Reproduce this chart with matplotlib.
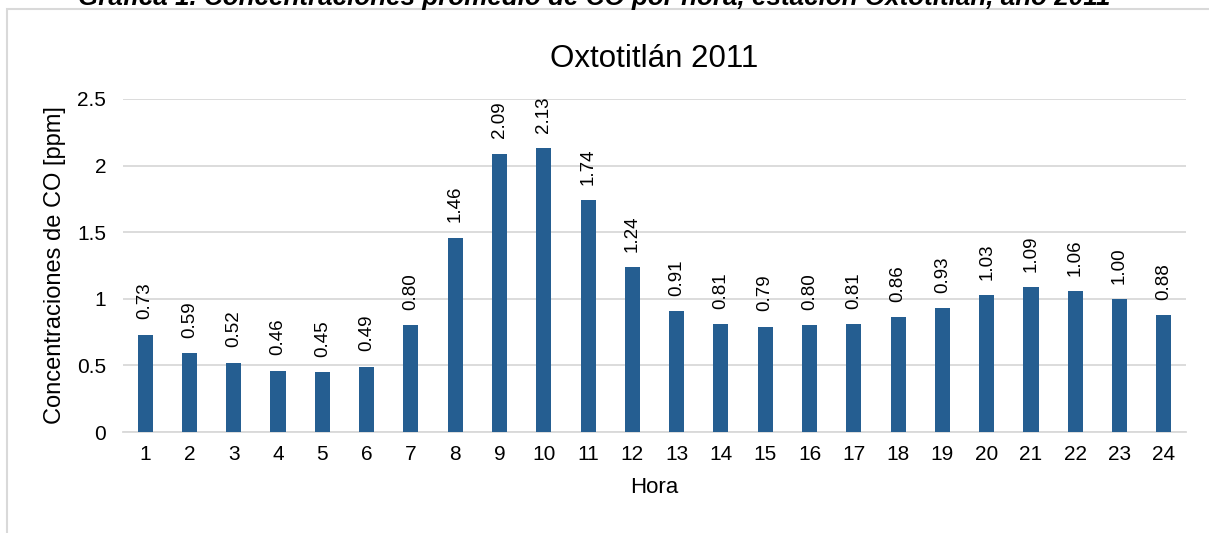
import matplotlib
matplotlib.use("Agg")
import matplotlib.pyplot as plt
from matplotlib.patches import Rectangle

plt.rcParams['font.family'] = ['Liberation Sans', 'DejaVu Sans']

# data
horas = [str(h) for h in range(1, 25)]
co_ppm = [0.73, 0.59, 0.52, 0.46, 0.45, 0.49, 0.80, 1.46, 2.09, 2.13, 1.74, 1.24,
          0.91, 0.81, 0.79, 0.80, 0.81, 0.86, 0.93, 1.03, 1.09, 1.06, 1.00, 0.88]
etiquetas = ['0.73', '0.59', '0.52', '0.46', '0.45', '0.49', '0.80', '1.46', '2.09', '2.13',
             '1.74', '1.24', '0.91', '0.81', '0.79', '0.80', '0.81', '0.86', '0.93', '1.03',
             '1.09', '1.06', '1.00', '0.88']

W, H = 1209, 533
fig = plt.figure(figsize=(W / 100, H / 100), dpi=100)

# outer chart frame (cut at right and bottom)
fig.patches.append(Rectangle((7 / W, -0.1), 1.2, (H - 9) / H + 0.1,
                             transform=fig.transFigure, fill=False,
                             edgecolor='#D9D9D9', linewidth=1.5))

# caption, mostly cut off at the top
fig.text(594 / W, 1 - 5.5 / H,
         'Gráfica 1. Concentraciones promedio de CO por hora, estación Oxtotitlán, año 2011',
         ha='center', va='baseline', fontsize=18.7, weight='bold', style='italic')

ax = fig.add_axes([123 / W, 1 - 432 / H, (1186 - 123) / W, (432 - 99) / H])
x = range(len(horas))
ax.bar(x, co_ppm, width=0.34, color='#255E91', zorder=3)

for xi, v, lab in zip(x, co_ppm, etiquetas):
    ax.annotate(lab, (xi, v), xytext=(0, 11), textcoords='offset points',
                rotation=90, ha='center', va='bottom', fontsize=13.5, color='#000000')

ax.set_xlim(-0.5, len(horas) - 0.5)
ax.set_ylim(0, 2.5)
ax.set_yticks([0, 0.5, 1, 1.5, 2, 2.5])
ax.set_yticklabels(['0', '0.5', '1', '1.5', '2', '2.5'])
ax.set_xticks(list(x))
ax.set_xticklabels(horas)
ax.yaxis.grid(True, color='#D9D9D9', linewidth=1.3, zorder=0)
for s in ['top', 'right', 'left']:
    ax.spines[s].set_visible(False)
ax.spines['bottom'].set_color('#D9D9D9')
ax.spines['bottom'].set_linewidth(1.3)
ax.tick_params(length=0, labelsize=15, pad=9)
ax.tick_params(axis='y', pad=12)

ax.set_title('Oxtotitlán 2011', fontsize=22.5, pad=23)
ax.set_xlabel('Hora', fontsize=16, labelpad=10)
ax.set_ylabel('Concentraciones de CO [ppm]', fontsize=17, labelpad=8)

fig.savefig('out.png', dpi=100)
